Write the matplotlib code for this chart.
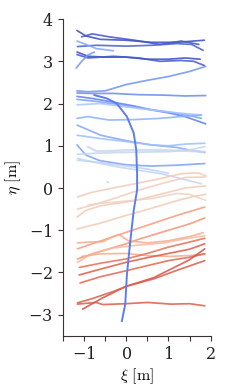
import matplotlib
matplotlib.use("Agg")
import matplotlib.pyplot as plt
from matplotlib.ticker import MultipleLocator

# pedestrian tracks: xi [m], eta [m], colour position on coolwarm
tracks_xi = [
    [-1.16, -0.95, -0.6, 0, 0.6, 1.2, 1.85],
    [-1.05, -0.8, -0.4, 0.2, 0.8, 1.3, 1.72],
    [-1.15, -0.7, 0, 0.6, 1.2, 1.55, 1.82],
    [-1.16, -0.9, -0.5, 0, 0.5, 1.0, 1.4, 1.75],
    [-1.16, -0.9, -0.3, 0.3, 0.8, 1.3, 1.6, 1.85],
    [-1.16, -0.95, -0.7, -0.45, -0.3],
    [-1.18, -1.05, -0.9, -0.75],
    [-1.16, -0.9, -0.5, 0, 0.5, 1.0, 1.5, 1.88],
    [-1.16, -0.8, -0.3, 0.3, 0.9, 1.4, 1.88],
    [-1.16, -0.8, -0.4, 0.2, 0.6, 1.0, 1.4, 1.88],
    [-1.16, -0.7, -0.2, 0.4, 1.0, 1.5, 1.78],
    [-1.16, -0.6, 0, 0.6, 1.2, 1.78],
    [-1.16, -0.9, -0.4, 0.2, 0.8, 1.4, 1.78],
    [-1.16, -0.9, -0.6, 0, 0.6, 1.2, 1.5, 1.86],
    [-1.16, -0.6, 0, 0.6, 1.0, 1.4, 1.86],
    [-1.16, -0.95, -0.63, 0, 0.6, 1.2, 1.86],
    [-0.91, -0.7, -0.3, 0.2, 0.8, 1.4, 1.86],
    [-1.15, -0.8, -0.2, 0.4, 1.0, 1.5, 1.86],
    [-1.15, -0.7, -0.2, 0.3, 0.82, 1.3, 1.78],
    [-1.15, -0.6, 0, 0.5, 1.0],
    [-0.45, -0.42],
    [-1.15, -0.8, -0.4, 0, 0.4, 0.8, 1.3, 1.7, 1.9],
    [-1.15, -0.7, -0.2, 0.3, 0.9, 1.4, 1.86],
    [-1.16, -0.95, -0.6, 0.2, 0.8, 1.4, 1.88],
    [-0.9, -0.5, -0.2, 0.6, 1.2, 1.5, 1.88],
    [-1.16, -0.6, 0, 0.6, 1.2, 1.6, 1.88],
    [-1.15, -0.5, 0, 0.6, 1.2, 1.86],
    [-1.15, -0.6, 0, 0.34, 1.0, 1.5, 1.86],
    [-1.15, -0.85, -0.55, -0.3, -0.17, 0.05, 0.5, 1.0, 1.5, 1.82],
    [-1.15, -0.8, -0.3, 0.3, 0.9, 1.4, 1.86],
    [-1.05, -0.6, 0, 0.5, 1.0, 1.5, 1.86],
    [-1.1, -0.6, 0, 0.5, 1.0, 1.5, 1.86],
    [-1.11, -0.6, 0, 0.5, 1.0, 1.5, 1.86],
    [-1.09, -0.6, 0, 0.5, 1.0, 1.5, 1.86],
    [-1.03, -0.55, 0, 0.66, 1.06, 1.5, 1.86],
    [-1.15, -0.8, -0.3, 0, 0.66, 1.2, 1.86],
    [-1.15, -0.71, -0.55, 0, 0.5, 1.06, 1.5, 1.86],
]
tracks_eta = [
    [3.73, 3.6, 3.52, 3.5, 3.45, 3.45, 3.5],
    [3.58, 3.65, 3.58, 3.5, 3.4, 3.48, 3.4],
    [3.35, 3.38, 3.36, 3.38, 3.42, 3.4, 3.26],
    [3.22, 3.12, 3.1, 3.1, 3.05, 3.05, 3.08, 3.05],
    [3.16, 3.08, 3.12, 3.08, 3.0, 3.02, 3.0, 2.9],
    [3.48, 3.4, 3.3, 3.27, 3.25],
    [2.84, 3.0, 3.15, 3.22],
    [2.3, 2.28, 2.3, 2.45, 2.55, 2.64, 2.76, 2.88],
    [2.25, 2.24, 2.24, 2.21, 2.2, 2.18, 2.19],
    [2.17, 2.12, 2.05, 1.94, 1.85, 1.78, 1.69, 1.52],
    [2.1, 2.05, 1.98, 1.88, 1.8, 1.72, 1.65],
    [1.97, 2.0, 1.92, 1.85, 1.78, 1.73],
    [1.65, 1.69, 1.61, 1.62, 1.65, 1.7, 1.73],
    [1.49, 1.38, 1.25, 1.12, 1.02, 0.96, 0.9, 0.84],
    [1.25, 1.17, 1.1, 1.02, 1.0, 1.04, 1.06],
    [1.02, 0.78, 0.65, 0.55, 0.52, 0.54, 0.58],
    [0.98, 0.87, 0.88, 0.9, 0.9, 0.88, 0.86],
    [0.8, 0.82, 0.84, 0.85, 0.86, 0.9, 0.98],
    [0.7, 0.6, 0.5, 0.42, 0.34, 0.22, 0.1],
    [0.66, 0.6, 0.52, 0.45, 0.35],
    [0.15, 0.13],
    [-0.21, -0.1, -0.02, 0.06, 0.14, 0.22, 0.34, 0.36, 0.28],
    [-0.5, -0.38, -0.22, -0.05, 0.12, 0.25, 0.26],
    [-0.69, -0.53, -0.42, -0.3, -0.15, 0.0, 0.05],
    [-0.4, -0.35, -0.33, -0.25, -0.13, -0.15, -0.29],
    [-0.97, -0.83, -0.65, -0.48, -0.3, -0.2, -0.15],
    [-1.44, -1.22, -1.05, -0.85, -0.65, -0.45],
    [-1.68, -1.5, -1.32, -1.2, -1.0, -0.85, -0.71],
    [-1.3, -1.28, -1.27, -1.15, -1.1, -1.25, -1.3, -1.25, -1.15, -1.06],
    [-1.76, -1.55, -1.42, -1.35, -1.3, -1.2, -1.13],
    [-1.62, -1.56, -1.55, -1.6, -1.62, -1.6, -1.56],
    [-1.88, -1.78, -1.68, -1.55, -1.4, -1.28, -1.19],
    [-2.06, -1.92, -1.76, -1.65, -1.55, -1.45, -1.32],
    [-2.25, -2.1, -1.96, -1.84, -1.72, -1.64, -1.56],
    [-2.87, -2.6, -2.33, -2.12, -1.92, -1.7, -1.44],
    [-2.72, -2.62, -2.45, -2.33, -2.15, -1.95, -1.72],
    [-2.75, -2.71, -2.76, -2.74, -2.71, -2.75, -2.74, -2.79],
]
tracks_shade = [0.0, 0.02, 0.04, 0.0, 0.03, 0.22, 0.18,
                0.17, 0.15, 0.12, 0.2, 0.33, 0.25,
                0.22, 0.3, 0.2, 0.44, 0.42, 0.41, 0.4, 0.4,
                0.6, 0.58, 0.6, 0.57, 0.6,
                0.74, 0.76, 0.7, 0.66, 0.7, 0.84, 0.88, 0.86, 0.9, 0.88, 0.88]

# the one walker crossing the flow
walker_xi = [-0.1, -0.02, 0.02, 0.1, 0.18, 0.26, 0.26, 0.24, 0.18, 0.02, -0.22, -0.45, -0.75]
walker_eta = [-3.15, -2.75, -2.04, -1.25, -0.53, -0.05, 0.34, 0.9, 1.3, 1.69, 2.0, 2.12, 2.2]

plt.rcParams['mathtext.fontset'] = 'cm'
plt.rcParams['font.family'] = 'serif'
plt.rcParams['font.serif'] = ['DejaVu Serif']
plt.rcParams['axes.formatter.use_mathtext'] = True

fig = plt.figure(figsize=(2.4, 3.9), dpi=100)
ax = fig.add_axes([0.261, 0.139, 0.617, 0.812])
cmap = plt.get_cmap('coolwarm')

for xs, ys, c in zip(tracks_xi, tracks_eta, tracks_shade):
    lw = 1.7 if c == 0.44 else 1.25
    ax.plot(xs, ys, color=cmap(c), lw=lw, alpha=0.85, solid_capstyle='round')

ax.plot(walker_xi, walker_eta, color='#5a7df2', lw=1.4)

ax.set_xlim(-1.5, 2)
ax.set_ylim(-3.5, 4)
ax.xaxis.set_major_locator(MultipleLocator(1))
ax.xaxis.set_minor_locator(MultipleLocator(0.5))
ax.yaxis.set_major_locator(MultipleLocator(1))
ax.spines['top'].set_visible(False)
ax.spines['right'].set_visible(False)
for s in ['left', 'bottom']:
    ax.spines[s].set_color('#3a3333')
    ax.spines[s].set_linewidth(0.8)
ax.tick_params(which='both', direction='out', length=3.5, width=0.8,
               color='#3a3333', labelcolor='#222222', labelsize=11.5)
ax.set_xlabel(r'$\xi\ [\mathrm{m}]$', fontsize=11.5, labelpad=3)
ax.set_ylabel(r'$\eta\ [\mathrm{m}]$', fontsize=11.5, labelpad=4)

fig.savefig('out.png', dpi=100)
